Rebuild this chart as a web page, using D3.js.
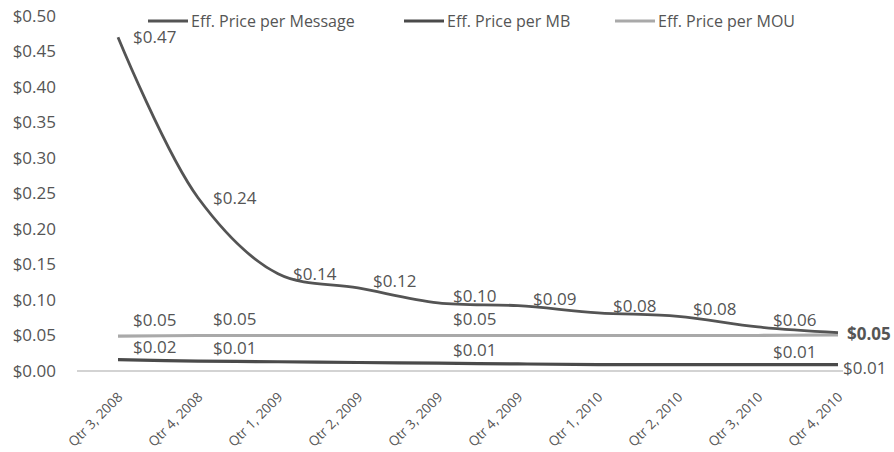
<!DOCTYPE html>
<html>
<head>
<meta charset="utf-8">
<script src="https://cdn.jsdelivr.net/npm/d3@7"></script>
<style>
  html, body { margin: 0; padding: 0; background: #fff; }
  svg { display: block; }
  text { font-family: "Open Sans", "Noto Sans", sans-serif; fill: #555; }
</style>
</head>
<body>
<svg id="chart" width="894" height="452"></svg>
<script>
// ---- data ----
const categories = ["Qtr 3, 2008", "Qtr 4, 2008", "Qtr 1, 2009", "Qtr 2, 2009", "Qtr 3, 2009",
                    "Qtr 4, 2009", "Qtr 1, 2010", "Qtr 2, 2010", "Qtr 3, 2010", "Qtr 4, 2010"];
const seriesNames = ["Eff. Price per Message", "Eff. Price per MB", "Eff. Price per MOU"];
const pricePerMessage = [0.47, 0.244, 0.137, 0.117, 0.096, 0.092, 0.082, 0.077, 0.062, 0.054];
const pricePerMB      = [0.016, 0.014, 0.013, 0.012, 0.011, 0.010, 0.009, 0.009, 0.009, 0.009];
const pricePerMOU     = [0.049, 0.050, 0.050, 0.050, 0.050, 0.050, 0.050, 0.050, 0.050, 0.051];
const labelIdxMessage = [0, 1, 2, 3, 4, 5, 6, 7, 8, 9];
const labelIdxMB      = [0, 1, 4, 8, 9];
const labelIdxMOU     = [0, 1, 4, 9];
const yTicks = [0, 0.05, 0.10, 0.15, 0.20, 0.25, 0.30, 0.35, 0.40, 0.45, 0.50];

// ---- layout ----
const svg = d3.select("#chart");
const x = d3.scalePoint().domain(categories).range([118, 838]);
const y = d3.scaleLinear().domain([0, 0.5]).range([371, 16]);
const fmt = v => "$" + v.toFixed(2);
const lastIdx = categories.length - 1;

// y axis labels (no axis line)
const yAxis = d3.axisLeft(y).tickValues(yTicks).tickFormat(fmt).tickSize(0).tickPadding(0);
const ya = svg.append("g").attr("transform", "translate(56,0)").call(yAxis);
ya.select(".domain").remove();
ya.selectAll("text").style("font-size", "17px").attr("fill", "#555")
  .style("font-family", "'Open Sans', sans-serif");

// baseline
svg.append("line").attr("x1", 77).attr("x2", 843).attr("y1", y(0)).attr("y2", y(0))
  .attr("stroke", "#c4c4c4").attr("stroke-width", 1.5);

// x axis labels
const xAxis = d3.axisBottom(x).tickSize(0).tickPadding(0);
const xa = svg.append("g").attr("transform", "translate(5,398)").call(xAxis);
xa.select(".domain").remove();
xa.selectAll("text")
  .attr("text-anchor", "end")
  .attr("dy", "0")
  .attr("y", 0)
  .attr("transform", "rotate(-45)")
  .style("font-size", "13.5px").attr("fill", "#444")
  .style("font-family", "'Open Sans', sans-serif");

const curve = d3.curveCatmullRom.alpha(0.5);
const line = d3.line().x((d, i) => x(categories[i])).y(d => y(d)).curve(curve);

const series = [
  { key: "mou", name: seriesNames[2], values: pricePerMOU, color: "#a9a9a9", width: 3.2, labels: labelIdxMOU, dy: -16 },
  { key: "mb", name: seriesNames[1], values: pricePerMB, color: "#4a4a4a", width: 3.2, labels: labelIdxMB, dy: -13 },
  { key: "msg", name: seriesNames[0], values: pricePerMessage, color: "#545454", width: 2.8, labels: labelIdxMessage, dy: null }
];

series.forEach(s => {
  svg.append("path").datum(s.values).attr("d", line)
    .attr("fill", "none").attr("stroke", s.color).attr("stroke-width", s.width)
    .attr("stroke-linecap", "butt");
});

// data labels (inner points)
series.forEach(s => {
  s.labels.filter(i => i !== lastIdx).forEach(i => {
    const px = x(categories[i]), py = y(s.values[i]);
    const ly = s.dy === null ? py + (i < 3 ? 0 : -7) : py + s.dy;
    svg.append("text").attr("x", px + 15).attr("y", ly).attr("dy", "0.35em")
      .style("font-size", "17px").attr("fill", "#555")
      .text(fmt(s.values[i]));
  });
});

// end labels: labels with identical text at the end overlap into one darker label
const endGroups = d3.group(
  series.filter(s => s.labels.includes(lastIdx)),
  s => fmt(s.values[lastIdx])
);
endGroups.forEach((group, txt) => {
  const ys = group.map(s => y(s.values[lastIdx]));
  const shared = group.length > 1;
  const ly = shared ? d3.mean(ys) : d3.mean(ys) + 3;
  svg.append("text").attr("x", x(categories[lastIdx]) + (shared ? 9 : 5)).attr("y", ly).attr("dy", "0.35em")
    .style("font-size", "17px").style("font-weight", shared ? "700" : "400")
    .attr("fill", shared ? "#333" : "#666")
    .text(txt);
});

// legend
const legendItems = [
  { name: seriesNames[0], color: "#545454", w: 2.8, x: 148 },
  { name: seriesNames[1], color: "#4a4a4a", w: 3.2, x: 404 },
  { name: seriesNames[2], color: "#a9a9a9", w: 3.2, x: 615 }
];
const lg = svg.append("g");
legendItems.forEach(d => {
  lg.append("line").attr("x1", d.x).attr("x2", d.x + 40).attr("y1", 21).attr("y2", 21)
    .attr("stroke", d.color).attr("stroke-width", d.w);
  lg.append("text").attr("x", d.x + 43).attr("y", 21).attr("dy", "0.35em")
    .style("font-size", "16px").attr("fill", "#555").text(d.name);
});
</script>
</body>
</html>
